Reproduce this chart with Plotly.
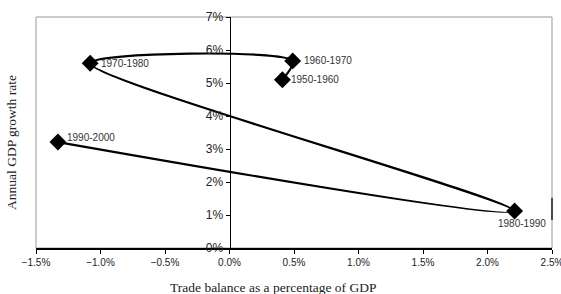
import plotly.graph_objects as go

decades = ["1950-1960", "1960-1970", "1970-1980", "1980-1990", "1990-2000"]
trade_balance = [0.0041, 0.0049, -0.0108, 0.0221, -0.0133]
gdp_growth = [0.0510, 0.0567, 0.0560, 0.0112, 0.0321]

x_ticks = [-0.015, -0.01, -0.005, 0.0, 0.005, 0.01, 0.015, 0.02, 0.025]
y_ticks = [0, 0.01, 0.02, 0.03, 0.04, 0.05, 0.06, 0.07]

fig = go.Figure()
fig.add_trace(go.Scatter(
    x=trade_balance, y=gdp_growth, mode="lines+markers",
    line=dict(color="black", width=2.2, shape="spline", smoothing=0.8),
    marker=dict(symbol="diamond", size=13, color="black"),
    hoverinfo="skip", showlegend=False, cliponaxis=False,
))

label_pos = {
    "1950-1960": dict(xanchor="left", yanchor="middle", xshift=7, yshift=0),
    "1960-1970": dict(xanchor="left", yanchor="middle", xshift=9, yshift=0),
    "1970-1980": dict(xanchor="left", yanchor="middle", xshift=9, yshift=0),
    "1980-1990": dict(xanchor="center", yanchor="top", xshift=7, yshift=-5),
    "1990-2000": dict(xanchor="left", yanchor="middle", xshift=7, yshift=5),
}
for d, x, y in zip(decades, trade_balance, gdp_growth):
    p = label_pos[d]
    fig.add_annotation(x=x, y=y, text=d, showarrow=False,
                       font=dict(family="Liberation Sans, Arial", size=10, color="#333"),
                       **p)

fig.add_annotation(xref="paper", yref="paper", x=0.459, y=-0.169, text="Trade balance as a percentage of GDP",
                   showarrow=False, xanchor="center", yanchor="middle",
                   font=dict(family="Liberation Serif, Times New Roman", size=13.5, color="#222"))
fig.add_annotation(xref="paper", yref="paper", x=-0.0465, y=0.455, text="Annual GDP growth rate",
                   showarrow=False, textangle=-90, xanchor="center", yanchor="middle",
                   font=dict(family="Liberation Serif, Times New Roman", size=13.5, color="#222"))

fig.update_layout(
    width=561, height=294,
    margin=dict(l=36, r=9, t=17, b=46, autoexpand=False),
    paper_bgcolor="white", plot_bgcolor="white",
    shapes=[dict(type="rect", xref="paper", yref="paper", x0=0, x1=1, y0=0, y1=1,
                 line=dict(color="#999", width=1), layer="below"),
            dict(type="line", xref="paper", yref="y", x0=1, x1=1, y0=0.0085, y1=0.0152,
                 line=dict(color="#222", width=1.5))],
    xaxis=dict(range=[-0.015, 0.025], tickvals=x_ticks, tickformat=".1%", automargin=False,
               ticklabeloverflow="allow",
               showgrid=False, zeroline=False, showline=True, linecolor="black", linewidth=1.5,
               ticks="outside", ticklen=4, tickcolor="black",
               tickfont=dict(family="Liberation Sans, Arial", size=10, color="#222")),
    yaxis=dict(range=[0, 0.07], tickvals=y_ticks, tickformat=".0%", automargin=False,
               anchor="free", position=0.375,
               showgrid=False, zeroline=False, showline=True, linecolor="black", linewidth=1.5,
               ticks="outside", ticklen=4, tickcolor="black",
               tickfont=dict(family="Liberation Sans, Arial", size=12, color="#222")),
)

fig.write_html("out.html", config={"displayModeBar": False, "staticPlot": True},
               post_script="document.body.style.margin='0';document.body.style.overflow='hidden';")
